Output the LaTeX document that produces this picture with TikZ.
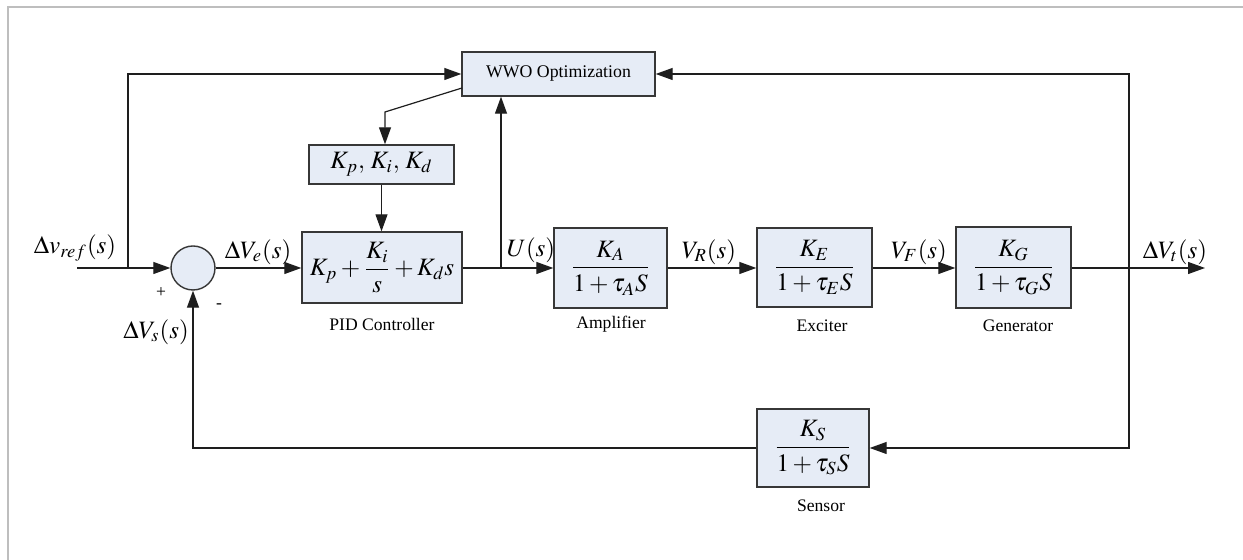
\documentclass[tikz,border=0pt]{standalone}
\usepackage{mathptmx}
\usepackage[no-math]{fontspec}
\setmainfont{Liberation Serif}
\usetikzlibrary{arrows.meta}
\definecolor{boxfill}{RGB}{230,236,246}
\definecolor{boxline}{RGB}{55,55,55}
\definecolor{framec}{RGB}{190,190,190}
\definecolor{wirec}{RGB}{30,30,30}
\newcommand{\mathfont}{\fontsize{12.5}{15}\selectfont}
\newcommand{\myfrac}[2]{\displaystyle\frac{#1}{#2}}
\tikzset{
  blk/.style={draw=boxline, line width=0.7pt, fill=boxfill, inner sep=0pt, align=center, font=\mathfont},
  sumnode/.style={circle, draw=boxline, line width=0.7pt, fill=boxfill, minimum size=22pt, inner sep=0pt},
  wire/.style={draw=wirec, line width=0.6pt},
  arr/.style={wire, -{Triangle[length=8.5pt,width=6pt]}},
  lbl/.style={font=\mathfont, inner sep=0pt},
  capt/.style={font=\fontsize{8.8}{10}\selectfont, inner sep=0pt},
}
\begin{document}
\begin{tikzpicture}[x=0.5pt,y=-0.5pt]
\useasboundingbox (0,0) rectangle (1243,560);
% frame
\draw[framec, line width=1pt] (8,560) -- (8,7) -- (1243,7);

% blocks
\node[blk, minimum width=96.5pt, minimum height=22pt, font=\fontsize{8.9}{10}\selectfont] (wwo) at (558.5,74) {WWO Optimization};
\node[blk, minimum width=72.5pt, minimum height=19.5pt] (kbox) at (381.5,164.5) {$K_p,\, K_i,\, K_d$};
\node[blk, minimum width=80pt, minimum height=35.5pt] (pid) at (382,267.5) {$K_p+\myfrac{K_i}{s}+K_d s$};
\node[blk, minimum width=56.5pt, minimum height=40pt] (amp) at (610.5,268) {$\myfrac{K_A}{1+\tau_A S}$};
\node[blk, minimum width=57.5pt, minimum height=39.5pt] (exc) at (814.5,267.5) {$\myfrac{K_E}{1+\tau_E S}$};
\node[blk, minimum width=57.5pt, minimum height=40.5pt] (gen) at (1013.5,267.5) {$\myfrac{K_G}{1+\tau_G S}$};
\node[blk, minimum width=56pt, minimum height=39pt] (sens) at (813,448) {$\myfrac{K_S}{1+\tau_S S}$};
\node[sumnode] (sum) at (193,268) {};

% coordinates
\coordinate (in) at (77,268);
\coordinate (b1) at (128,268);
\coordinate (ub) at (501,268);
\coordinate (wk) at (462,88);
\coordinate (kb) at (385,112);
\coordinate (br) at (1129,268);
\coordinate (out) at (1205,268);

% connectors
\draw[wire] (in) -- (b1);
\draw[arr] (b1) -- (sum.west);
\draw[arr] (b1) |- (wwo.west);
\draw[arr] (sum.east) -- (sum.east -| pid.west);
\draw[arr] (wk) -- (kb) -- (kb |- kbox.north);
\draw[arr] (kbox.south) -- (kbox.south |- pid.north);
\draw[arr] (pid.east |- ub) -- (ub -| amp.west);
\draw[arr] (ub) -- (ub |- wwo.south);
\draw[arr] (amp.east |- ub) -- (ub -| exc.west);
\draw[arr] (exc.east |- ub) -- (ub -| gen.west);
\draw[arr] (gen.east |- out) -- (out);
\draw[arr] (br) |- (sens.east);
\draw[arr] (br) |- (wwo.east);
\draw[arr] (sens.west) -| (sum.south);

% signal labels
\node[lbl] (lref) at (75,248) {$\Delta v_{ref}(s)$};
\node[lbl] (lve) at (258,252) {$\Delta V_e(s)$};
\node[lbl] (lu) at (531,250) {$U(s)$};
\node[lbl] (lvr) at (709,252) {$V_R(s)$};
\node[lbl] (lvf) at (919,252) {$V_F(s)$};
\node[lbl] (lvt) at (1175,252) {$\Delta V_t(s)$};
\node[lbl] (lvs) at (156,332) {$\Delta V_s(s)$};
\node[capt] (plus) at (161,293) {+};
\node[capt] (minus) at (219,306) {-};

% captions
\node[capt] (cpid) at (382,324) {PID Controller};
\node[capt] (camp) at (611,324) {Amplifier};
\node[capt] (cexc) at (822,326) {Exciter};
\node[capt] (cgen) at (1018,326) {Generator};
\node[capt] (csen) at (821,506) {Sensor};
\end{tikzpicture}
\end{document}
